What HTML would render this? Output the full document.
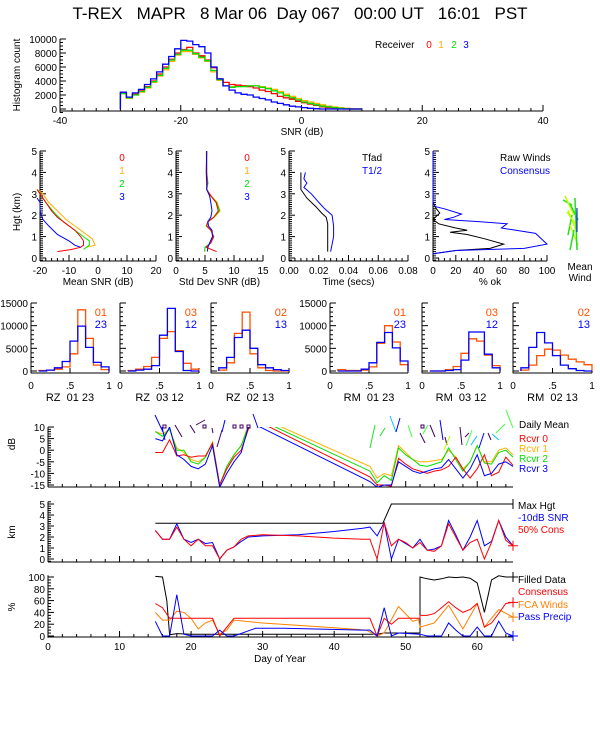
<!DOCTYPE html>
<html><head><meta charset="utf-8"><style>
html,body{margin:0;padding:0;background:#fff;}
svg{display:block;font-family:"Liberation Sans",sans-serif;}
text{font-size:10px;white-space:pre;}
</style></head><body>
<svg id="chart" width="600" height="750" viewBox="0 0 600 750" xmlns="http://www.w3.org/2000/svg">
<text x="300" y="19" text-anchor="middle" xml:space="preserve" style="font-size:17px">T-REX   MAPR   8 Mar 06  Day 067   00:00 UT   16:01   PST</text>
</svg>
<script>
// ---------- DATA ----------
const histBins=[-30,-29,-28,-27,-26,-25,-24,-23,-22,-21,-20,-19,-18,-17,-16,-15,-14,-13,-12,-11,-10,-9,-8,-7,-6,-5,-4,-3,-2,-1,0,1,2,3,4,5,6,7,8,9];
const hist0=[2300,1600,2100,2600,3200,4000,5000,6000,7100,8000,8500,8800,8000,7600,7000,5900,4300,3800,3500,3400,3300,3200,3000,2700,2500,2200,1800,1600,1400,1100,900,700,500,300,200,100,50,0,0,0];
const hist1=[2200,1500,2000,2400,3000,3800,4700,5600,6800,7700,8200,8200,7800,7300,6800,5300,4100,3300,3200,3200,3300,3300,3300,3200,3000,2800,2500,2100,1800,1500,1200,1000,800,600,400,300,200,100,50,0];
const hist2=[2200,1600,2000,2500,3100,3900,4800,5800,7000,7800,8400,8400,7900,7400,6900,5500,4200,3300,3100,3200,3200,3300,3300,3100,2900,2600,2300,1900,1600,1300,1000,800,600,400,300,200,100,50,0,0];
const hist3=[2400,1700,2300,2800,3500,4300,5300,6400,7500,8600,9800,9700,9200,8900,8000,6000,4300,3300,2700,2300,2100,2000,1700,1500,1300,1000,800,600,400,300,200,100,50,0,0,0,0,0,0,0];

const snrH0=[0.3,0.4,0.5,0.6,0.8,1.0,1.3,1.6,1.9,2.2,2.6,3.0,3.2];
const snr0=[-14,-9,-6,-5,-5,-6,-8,-11,-14,-16,-18,-20,-21];
const snrH1=[0.5,0.6,0.9,1.2,1.5,1.8,2.2,2.6,3.0,3.2];
const snr1=[-4,-1,-2,-5,-8,-11,-14,-17,-19,-21];
const snrH2=[0.4,0.6,0.8,1.1,1.4,1.7,2.1,2.6,3.0,3.2];
const snr2=[-5,-3,-3,-6,-9,-12,-15,-18,-20,-21];
const snrH3=[0.5,0.6,0.8,1.1,1.5,1.8,2.2,2.6,2.8];
const snr3=[-6,-8,-10,-14,-17,-19,-20,-20,-21];

const sdH=[5,4,3.5,3.2,2.9,2.6,2.2,1.9,1.7,1.5,1.3,1.0,0.7,0.5,0.3];
const sd0=[5.3,5.3,5.4,5.3,6.0,6.9,7.3,6.5,5.5,5.3,6.0,6.5,6.0,5.2,7.0];
const sd1=[5.2,5.3,5.5,5.3,6.1,7.1,7.6,6.6,5.6,5.2,6.0,6.4,6.0,5.0,5.0];
const sd2=[5.3,5.3,5.5,5.3,6.0,7.0,7.5,6.5,5.5,5.2,6.0,6.5,6.0,5.0,4.9];
const sd3=[5.3,5.2,5.3,5.3,5.8,6.0,6.2,6.0,5.5,5.6,6.2,6.3,5.8,5.5,5.4];

const tfadH=[4.0,3.2,2.8,2.4,2.1,1.9,1.6,0.3];
const tfad=[0.008,0.008,0.012,0.018,0.022,0.025,0.026,0.026];
const thalfH=[4.0,3.7,3.5,3.3,3.0,2.6,2.3,2.0,1.5,1.0,0.3];
const thalf=[0.011,0.010,0.012,0.010,0.015,0.020,0.024,0.029,0.030,0.030,0.028];

const rawH=[2.6,2.3,2.1,1.9,1.8,1.6,1.4,1.3,1.2,1.1,0.9,0.65,0.45,0.35,0.2];
const rawPct=[0,3,6,2,0,5,20,30,15,30,45,62,50,20,0];
const conH=[5,2.6,2.4,2.3,2.05,1.9,1.8,1.7,1.6,1.4,1.15,0.9,0.65,0.45,0.35,0.2];
const conPct=[0,0,2,10,25,18,10,40,65,60,90,95,100,80,20,0];

const rBins=[0.1,0.2,0.3,0.4,0.5,0.6,0.7,0.8,0.9,1.0];
const rz0123a=[100,200,400,900,3800,13500,7200,1300,300];
const rz0123b=[0,200,700,2100,6600,9900,5200,1900,900];
const rz0312a=[100,400,1000,3000,7200,8700,4500,1700,400];
const rz0312b=[0,200,400,1200,7900,13800,4300,100,0];
const rz0213a=[200,1800,8300,13000,3800,700,100,0,0];
const rz0213b=[700,3000,7400,9000,5000,1400,700,300,100];
const rm0123a=[300,100,100,200,900,6100,10000,6400,1400];
const rm0123b=[0,0,0,400,1800,6300,8500,5100,2200];
const rm0312a=[0,0,300,1000,3900,7100,6600,3500,1200];
const rm0312b=[0,0,100,300,2400,8600,8600,3700,700];
const rm0213a=[200,1300,3400,4800,4600,3500,2600,2000,1400];
const rm0213b=[700,5200,8500,6200,3400,1300,500,100,0];

const dayA=[15,16,17,18,19,20,21,22,23,24,25,26,27,28,29,45,46,47,48,49,50,51,52,53,54,55,56,57,58,59,60,61,62,63,64,65];
const db0=[-1,-1,4.5,-2.5,-2,-3,-2.5,-2.5,3,-15,-8,-3,0,9,13,-11.5,-15,-15,-15.5,-3.5,-6,-8,-9,-10,-9,-8.5,-7,-3,-8,-12,-8,-2,-11,-9.5,-3,-6.5];
const db1=[8,7,9,1,-1,-4,-5,-3,3.5,-15,-7,-2,2,11,15,-7,-12,-10,-11,2,-1,-4,-5,-5,-4.5,-4,0,-3,-8,-5,2,-5,-5,0,1,-2];
const db2=[8,6,9,0,0,-5,-6,-3,3,-15,-7,-2,2,10,14,-9,-14,-11,-13,1,-2,-4,-6.5,-7,-6,-5,1,-4,-9,-5,2,-5.5,-6,-1,0,-3];
const db3=[5,4,10,-2,-4,-7,-8,-6,2,-16,-10,-5,-1,10,11,-13.5,-16,-15,-15,-5,-7,-9,-10,-9,-8,-7.5,-4,-8,-12,-8,-2,-11,-10,-6,-5,-7];

const maxDays=[15,46.8,48,65];
const maxHgt=[3.25,3.25,5,5];
const snrDays=[15,16,17,18,19,20,21,22,23,24,25,26,27,28,30,35,40,44,45,46,47,48,49,50,51,52,53,54,55,56,57,58,59,60,61,62,63,64,65];
const snrHgt=[2.6,1.8,1.8,3.2,1.8,1.5,1.8,1.4,1.5,0,0.8,1.1,1.6,2.0,2.1,2.2,2.5,2.8,2.9,2.1,3.3,0,1.8,1.4,1.0,1.8,0.8,0.9,1.2,3.5,2.2,0.8,2.0,3.5,1.2,1.6,3.5,2.0,1.2];
const consHgt=[2.6,1.8,1.8,2.9,1.8,1.2,1.8,1.2,1.2,0,0.8,1.1,1.8,2.1,2.2,2.1,1.9,1.8,1.8,0,3.3,1.2,1.8,1.5,1.0,1.5,0.8,0.7,1.2,3.2,2.0,0.8,1.5,1.8,0,1.5,3.5,1.7,1.2];

const fillDays=[15,16,16.6,17,18,20,30,40,46,47,51,52,52,53,54,55,56,57,58,59,60,61,62,63,64,65];
const fillPct=[101,100,60,2,4,3,3,3,3,5,5,5,100,97,95,97,100,99,100,98,90,40,95,102,100,100];
const consDays=[15,16,17,18,23,24,26,45,46,47,48,49,52,52,53,54,55,56,57,58,59,60,61,62,63,64,65];
const consPct=[55,48,30,30,30,0,30,30,0,30,20,30,30,35,35,38,48,58,48,40,45,55,15,22,38,55,57];
const fcaDays=[15,16,17,18,19,20,21,22,23,24,25,26,30,35,40,44.5,46,47,49,51,51.8,52,54,56,58,60,61,63,65];
const fcaPct=[40,27,27,42,40,30,12,22,27,3,10,27,22,18,14,10,0,5,50,25,28,15,22,52,12,55,15,45,32];
const ppDays=[15,16,17,18,19,20,23,24,25,26,29,33,44,45,46,47,48,49,52,53,55,56,57,58,59,60,61,62,63,64,65];
const ppPct=[25,0,0,70,3,0,0,10,0,0,13,13,10,10,0,48,0,5,3,0,0,22,10,0,0,15,0,0,25,5,0];

// ---------- HELPERS ----------
const NS='http://www.w3.org/2000/svg';
const svg=document.getElementById('chart');
function mk(tag,attrs,name){
  const e=document.createElementNS(NS,tag);
  for(const k in attrs) e.setAttribute(k,attrs[k]);
  
  
  svg.appendChild(e);
  return e;
}
function txt(x,y,s,name,opt){
  opt=opt||{};
  const e=mk('text',{x:x,y:y,'text-anchor':opt.anchor||'middle',fill:opt.color||'#000'},name);
  if(opt.size) e.style.fontSize=opt.size+'px';
  if(opt.rot) e.setAttribute('transform','rotate(-90 '+x+' '+y+')');
  e.textContent=s;
  return e;
}
function lin(d0,d1,p0,p1){return v=>p0+(v-d0)*(p1-p0)/(d1-d0);}
function poly(xs,ys,sx,sy,color,name,w,clip){
  const pts=xs.map((x,i)=>sx(x).toFixed(1)+','+sy(ys[i]).toFixed(1)).join(' ');
  const e=mk('polyline',{points:pts,fill:'none',stroke:color,'stroke-width':w||1},name);
  if(clip) e.setAttribute('clip-path','url(#'+clip+')');
  return e;
}
function step(edges,vals,sx,sy,color,name,w){
  let d='M'+sx(edges[0])+','+sy(0);
  for(let i=0;i<vals.length;i++){
    d+=' L'+sx(edges[i]).toFixed(1)+','+sy(vals[i]).toFixed(1)+' L'+sx(edges[i+1]).toFixed(1)+','+sy(vals[i]).toFixed(1);
  }
  d+=' L'+sx(edges[vals.length])+','+sy(0);
  return mk('path',{d:d,fill:'none',stroke:color,'stroke-width':w||1.3},name);
}
function isMult(v,m){const r=v/m;return Math.abs(r-Math.round(r))<1e-6;}
// ticks along [x0,x1] at multiples of minor; majors at multiples of major; labels at labelVals
function xAxis(sx,y,x0,x1,major,minor,labelVals,fmt,name){
  mk('line',{x1:sx(x0),y1:y,x2:sx(x1),y2:y,stroke:'#000'},name+'-line');
  const s=Math.ceil(x0/minor-1e-9), e=Math.floor(x1/minor+1e-9);
  for(let i=s;i<=e;i++){
    const v=i*minor;
    mk('line',{x1:sx(v),y1:y,x2:sx(v),y2:y-(isMult(v,major)?6:3),stroke:'#000'},name+'-tick');
  }
  if(labelVals) labelVals.forEach(v=>txt(sx(v),y+13,fmt(v),name+'-label'));
}
function yAxis(sy,x,y0,y1,major,minor,labelVals,fmt,name){
  mk('line',{x1:x,y1:sy(y0),x2:x,y2:sy(y1),stroke:'#000'},name+'-line');
  const s=Math.ceil(y0/minor-1e-9), e=Math.floor(y1/minor+1e-9);
  for(let i=s;i<=e;i++){
    const v=i*minor;
    mk('line',{x1:x,y1:sy(v),x2:x+(isMult(v,major)?6:3),y2:sy(v),stroke:'#000'},name+'-tick');
  }
  if(labelVals) labelVals.forEach(v=>txt(x-3,sy(v)+4,fmt(v),name+'-label',{anchor:'end'}));
}
const C0='#ff0000',C1='#ffb000',C2='#00e000',C3='#0000ff',CO='#ff5000';

const defs=mk('defs',{},'clip-defs');
function clipRect(id,x,y,w,h){
  const cp=document.createElementNS(NS,'clipPath');cp.setAttribute('id',id);
  const r=document.createElementNS(NS,'rect');
  r.setAttribute('x',x);r.setAttribute('y',y);r.setAttribute('width',w);r.setAttribute('height',h);
  cp.appendChild(r);defs.appendChild(cp);
}

// ---------- TOP HISTOGRAM ----------
{
  const sx=lin(-40,40,60,543), sy=lin(0,10000,109,39);
  const edges=histBins.concat([10]);
  yAxis(sy,60,-500,10000,2000,500,[0,2000,4000,6000,8000,10000],v=>String(v),'hist-y-axis');
  xAxis(sx,111,-40,40,20,2,[-40,-20,0,20,40],v=>String(v),'hist-x-axis');
  step(edges,hist1,sx,sy,C1,'hist-rcvr1');
  step(edges,hist0,sx,sy,C0,'hist-rcvr0');
  step(edges,hist2,sx,sy,C2,'hist-rcvr2');
  step(edges,hist3,sx,sy,C3,'hist-rcvr3');
  txt(302,135,'SNR (dB)','hist-x-title');
  txt(20,75,'Histogram count','hist-y-title',{rot:true});
  txt(375,48,'Receiver','receiver-legend-title',{anchor:'start'});
  txt(429,48,'0','legend-rcvr0',{color:C0});
  txt(441,48,'1','legend-rcvr1',{color:C1});
  txt(454,48,'2','legend-rcvr2',{color:C2});
  txt(466,48,'3','legend-rcvr3',{color:C3});
}

// ---------- ROW 2 PROFILES ----------
const syH=lin(0,5,258,151);
function hAxes(x0,x1,d0,d1,major,minor,labels,fmt,name,title){
  const sx=lin(d0,d1,x0,x1);
  yAxis(syH,x0,-0.1,5,1,0.1,[0,1,2,3,4,5],v=>String(v),name+'-y-axis');
  xAxis(sx,261,d0,d1,major,minor,labels,fmt,name+'-x-axis');
  txt((x0+x1)/2,285,title,name+'-x-title');
  return sx;
}
{
  const sx=hAxes(40,156,-20,20,10,2,[-20,-10,0,10,20],v=>String(v),'mean-snr','Mean SNR (dB)');
  poly(snr1,snrH1,sx,syH,C1,'mean-snr-rcvr1');
  poly(snr2,snrH2,sx,syH,C2,'mean-snr-rcvr2');
  poly(snr0,snrH0,sx,syH,C0,'mean-snr-rcvr0');
  poly(snr3,snrH3,sx,syH,C3,'mean-snr-rcvr3');
  txt(122,161,'0','mean-snr-legend-0',{color:C0});
  txt(122,174,'1','mean-snr-legend-1',{color:C1});
  txt(122,187,'2','mean-snr-legend-2',{color:C2});
  txt(122,200,'3','mean-snr-legend-3',{color:C3});
  txt(20,212,'Hgt (km)','hgt-y-title',{rot:true});
}
{
  const sx=hAxes(176,263,0,15,5,1,[0,5,10,15],v=>String(v),'std-snr','Std Dev SNR (dB)');
  poly(sd1,sdH,sx,syH,C1,'std-snr-rcvr1');
  poly(sd2,sdH,sx,syH,C2,'std-snr-rcvr2');
  poly(sd0,sdH,sx,syH,C0,'std-snr-rcvr0');
  poly(sd3,sdH,sx,syH,C3,'std-snr-rcvr3');
  txt(247,161,'0','std-legend-0',{color:C0});
  txt(247,174,'1','std-legend-1',{color:C1});
  txt(247,187,'2','std-legend-2',{color:C2});
  txt(247,200,'3','std-legend-3',{color:C3});
}
{
  const sx=hAxes(289,408,0,0.08,0.02,0.004,[0,0.02,0.04,0.06,0.08],v=>v.toFixed(2),'time','Time (secs)');
  poly(tfad,tfadH,sx,syH,'#000','tfad-line');
  poly(thalf,thalfH,sx,syH,C3,'thalf-line');
  txt(362,161,'Tfad','tfad-legend',{anchor:'start'});
  txt(362,174,'T1/2','thalf-legend',{anchor:'start',color:C3});
}
{
  const sx=hAxes(433,547,0,100,20,5,[0,20,40,60,80,100],v=>String(v),'pct-ok','% ok');
  poly(rawPct,rawH,sx,syH,'#000','raw-winds-line');
  poly(conPct,conH,sx,syH,C3,'consensus-line');
  txt(500,161,'Raw Winds','raw-winds-legend',{anchor:'start'});
  txt(500,174,'Consensus','consensus-legend',{anchor:'start',color:C3});
  const mw=[[563,200,572,205],[565,196,574,215],[570,204,578,220],[568,210,576,230],[572,215,568,235],[570,225,578,245],[574,230,570,250],[567,212,577,226],[575,198,577,250]];
  mw.forEach((p,i)=>{mk('line',{x1:p[0],y1:p[1],x2:p[2],y2:p[3],stroke:i%2?'#c0ff00':'#20e020','stroke-width':1.5},'mean-wind-barb');});
  mk('line',{x1:577,y1:208,x2:577,y2:232,stroke:C3},'mean-wind-consensus');
  txt(580,270,'Mean','mean-wind-label');
  txt(580,281,'Wind','mean-wind-label-2');
}

// ---------- ROW 3 CORRELATION HISTOGRAMS ----------
const syR=lin(0,15000,371,303);
function rPanel(x0,x1,a,b,la,lb,title,name,labels){
  const sx=lin(0,1,x0,x1);
  yAxis(syR,x0,-500,15000,5000,1000,labels?[0,5000,10000,15000]:null,v=>String(v),name+'-y-axis');
  mk('line',{x1:x0,y1:373,x2:x1,y2:373,stroke:'#000'},name+'-x-axis');
  [0,0.5,1].forEach(v=>{mk('line',{x1:sx(v),y1:373,x2:sx(v),y2:368,stroke:'#000'},name+'-x-tick');});
  txt(sx(0),389,'0',name+'-x-label');txt(sx(0.5),389,'.5',name+'-x-label');txt(sx(1),389,'1',name+'-x-label');
  step(rBins,a,sx,syR,CO,name+'-hist-a',1.3);
  step(rBins,b,sx,syR,C3,name+'-hist-b',1.3);
  txt(x1-2,316,la,name+'-legend-a',{anchor:'end',color:CO,size:11});
  txt(x1-2,328,lb,name+'-legend-b',{anchor:'end',color:C3,size:11});
  txt((x0+x1)/2,401,title,name+'-title',{size:11});
}
rPanel(31,109,rz0123a,rz0123b,'01','23','RZ  01 23','rz-01-23',true);
rPanel(120,199,rz0312a,rz0312b,'03','12','RZ  03 12','rz-03-12',false);
rPanel(211,289,rz0213a,rz0213b,'02','13','RZ  02 13','rz-02-13',false);
rPanel(330,408,rm0123a,rm0123b,'01','23','RM  01 23','rm-01-23',true);
rPanel(422,500,rm0312a,rm0312b,'03','12','RM  03 12','rm-03-12',false);
rPanel(513,592,rm0213a,rm0213b,'02','13','RM  02 13','rm-02-13',false);

// ---------- TIME SERIES ----------
const sxD=lin(0,65,48,513);
{
  const sy=lin(-15,10,485,427);
  clipRect('clipdb',48,427,470,60);
  yAxis(sy,48,-15.5,10,5,1,[-15,-10,-5,0,5,10],v=>String(v),'db-y-axis');
  xAxis(sxD,487,0,65,10,2,null,null,'db-x-axis');
  poly(dayA,db1,sxD,sy,C1,'db-rcvr1',1,'clipdb');
  poly(dayA,db2,sxD,sy,C2,'db-rcvr2',1,'clipdb');
  poly(dayA,db0,sxD,sy,C0,'db-rcvr0',1,'clipdb');
  poly(dayA,db3,sxD,sy,C3,'db-rcvr3',1,'clipdb');
  txt(15,444,'dB','db-y-title',{rot:true});
  txt(519,428,'Daily Mean','daily-mean-legend',{anchor:'start'});
  txt(519,442,'Rcvr 0','rcvr0-legend',{anchor:'start',color:C0});
  txt(519,452,'Rcvr 1','rcvr1-legend',{anchor:'start',color:C1});
  txt(519,462,'Rcvr 2','rcvr2-legend',{anchor:'start',color:C2});
  txt(519,472,'Rcvr 3','rcvr3-legend',{anchor:'start',color:C3});
  const barbs=[[155,415,163,432,C3],[162,427,165,440,C3],[175,425,182,437,'#400060'],[190,425,195,433,'#400060'],[196,425,205,420,'#400060'],[212,428,213,433,'#400060'],[222,430,217,447,'#400060'],[225,420,222,432,C3],[253,414,258,428,C3],[375,425,370,448,'#20e020'],[385,428,380,436,'#20e020'],[390,416,396,432,'#00c0ff'],[400,418,396,432,C3],[408,425,412,437,'#40ff40'],[420,433,425,443,'#400060'],[423,434,428,425,'#40ff40'],[430,425,435,437,'#400060'],[440,420,443,440,C3],[445,437,447,445,'#400060'],[450,436,444,450,'#c0ff00'],[460,427,462,445,'#400060'],[465,437,469,433,'#400060'],[472,430,466,446,'#40ff40'],[477,436,471,445,'#00c0ff'],[484,433,479,448,C3],[488,433,491,440,'#400060'],[492,434,499,440,'#00c0ff'],[496,433,505,424,'#40ff40'],[506,410,513,428,'#40ff40']];
  barbs.forEach(b=>{mk('line',{x1:b[0],y1:b[1],x2:b[2],y2:b[3],stroke:b[4]},'wind-barb');});
  [163,203,233,240,247,421].forEach(x=>{mk('rect',{x:x,y:425,width:3,height:3,fill:'none',stroke:'#400060'},'calm-marker');});
}
{
  const sy=lin(0,5,559,504);
  yAxis(sy,48,-0.2,5.2,1,0.2,[0,1,2,3,4,5],v=>String(v),'km-y-axis');
  xAxis(sxD,562,0,65,10,2,null,null,'km-x-axis');
  poly(maxDays,maxHgt,sxD,sy,'#000','max-hgt-line');
  poly(snrDays,snrHgt,sxD,sy,C3,'snr-10db-line');
  poly(snrDays,consHgt,sxD,sy,C0,'cons-50-line');
  mk('path',{d:'M'+(sxD(65)-5)+','+sy(1.2)+' h10 M'+sxD(65)+','+(sy(1.2)-5)+' v10',stroke:C0},'cons-end-marker');
  mk('path',{d:'M'+sxD(65)+','+(sy(5)-5)+' v10',stroke:'#000'},'max-end-marker');
  txt(15,532,'km','km-y-title',{rot:true});
  txt(518,509,'Max Hgt','max-hgt-legend',{anchor:'start'});
  txt(518,521,'-10dB SNR','snr-10db-legend',{anchor:'start',color:C3});
  txt(518,533,'50% Cons','cons-50-legend',{anchor:'start',color:C0});
}
{
  const sy=lin(0,100,636,577);
  yAxis(sy,48,-3,103,20,5,[0,20,40,60,80,100],v=>String(v),'pct-y-axis');
  xAxis(sxD,637,0,65,10,2,[0,10,20,30,40,50,60],v=>String(v),'pct-x-axis');
  poly(fillDays,fillPct,sxD,sy,'#000','filled-data-line');
  poly(fcaDays,fcaPct,sxD,sy,'#ff8000','fca-winds-line');
  poly(consDays,consPct,sxD,sy,C0,'consensus-pct-line');
  poly(ppDays,ppPct,sxD,sy,C3,'pass-precip-line');
  const ends=[[100,'#000'],[57,C0],[32,'#ff8000'],[0,C3]];
  ends.forEach(e=>{mk('path',{d:'M'+(sxD(65)-5)+','+sy(e[0])+' h10 M'+sxD(65)+','+(sy(e[0])-5)+' v10',stroke:e[1]},'series-end-marker');});
  txt(15,607,'%','pct-y-title',{rot:true});
  txt(280,662,'Day of Year','day-x-title');
  txt(518,583,'Filled Data','filled-data-legend',{anchor:'start'});
  txt(518,595,'Consensus','consensus-pct-legend',{anchor:'start',color:C0});
  txt(518,608,'FCA Winds','fca-winds-legend',{anchor:'start',color:'#ff8000'});
  txt(518,620,'Pass Precip','pass-precip-legend',{anchor:'start',color:C3});
}
</script>
</body></html>
